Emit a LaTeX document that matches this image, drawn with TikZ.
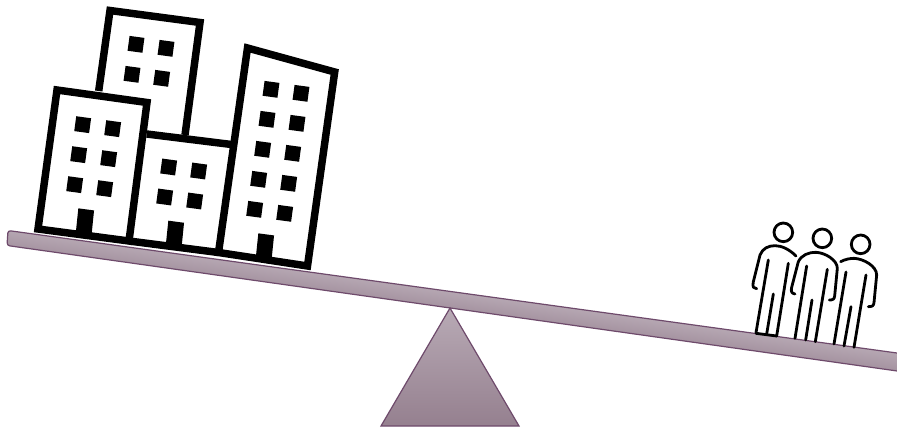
\documentclass[tikz,border=0pt]{standalone}
\usetikzlibrary{calc}
\definecolor{edgeplum}{HTML}{6E4A6B}
\definecolor{plumlight}{HTML}{B8AAB5}
\definecolor{plumdark}{HTML}{95808F}
\definecolor{beamtop}{HTML}{B9ABB6}
\definecolor{beamlow}{HTML}{A08D9B}
\tikzset{
  wall/.style={draw=black,line width=5.6pt,miter limit=10,line join=miter},
  person/.style={draw=black,line width=2.1pt,line cap=round,line join=round},
  plumshade/.style={draw=edgeplum,line width=0.9pt,top color=plumlight,bottom color=plumdark},
  beamline/.style={draw=edgeplum,line width=0.9pt,rounded corners=2pt}
}
\newcommand{\win}[2]{\fill[black,shift={(#1/3,#2/3)}] (-6.43,-8.43) -- (8.43,-6.43) -- (6.43,8.43) -- (-8.43,6.43) -- cycle;}
\newcommand{\door}[2]{\fill[black,shift={(#1/3,#2/3)}] (0,0) -- (15.7,2.1) -- (13.4,25) -- (-2.4,23) -- cycle;}
\begin{document}
\begin{tikzpicture}[x=0.75pt,y=-0.75pt]
\useasboundingbox (0,0) rectangle (897,429);
% beam: the gradient runs across the tilted bar
\begin{scope}
  \clip[rounded corners=2pt] (8,230.5) -- (905,354.1) -- (905,372.1) -- (7,245.5) -- cycle;
  \begin{scope}[transform canvas={rotate around={-7.9:(452,301)}}]
    \shade[top color=beamtop,bottom color=beamlow] (-100,288) rectangle (1000,314);
  \end{scope}
\end{scope}
\draw[beamline] (8,230.5) -- (905,354.1) -- (905,372.1) -- (7,245.5) -- cycle;
% pivot
\path[plumshade] (450,308) -- (519,426) -- (381,426) -- cycle;
% back building
\draw[wall] (98.7,91) -- (110,10.5) -- (200,22.5) -- (185,135);
% left building
\draw[wall] (57,90) -- (147,102.5) -- (129,241) -- (38,229) -- cycle;
% middle building
\draw[wall] (146.7,134) -- (231.5,144.5);
\draw[wall] (129,241) -- (218.5,252.5);
% right building
\draw[wall] (247.5,48) -- (334.7,72) -- (307.5,266) -- (218.5,252.5) -- cycle;
% windows
\foreach \a/\b in {408/133,498/145,396/223,485/235,
  248/374,338/386,236/464,326/476,224/554,314/566,
  506/501,596/513,494/591,584/603,
  813/268,903/280,801/358,891/370,788/448,878/460,776/538,866/550,764/628,854/640}
  {\win{\a}{\b}}
% doors
\door{235}{625}
\door{505}{662}
\door{775}{700}
% people
\begin{scope}[shift={(740,210)},x=0.25pt,y=-0.25pt,person]
  % person 1
  \draw (130,67) circle (28);
  \draw (168,138) .. controls (148,118) and (125,107) .. (105,107) .. controls (85,107) and (68,115) .. (60,135)
     -- (40,215) .. controls (36,232) and (42,236) .. (50,236);
  \draw (85,150) -- (48,368);
  \draw (145,160) -- (110,378);
  \draw (100,252) -- (80,372);
  \draw (48,370) -- (110,378);
  % person 2
  \draw (247,85) circle (28);
  \draw (165,252) .. controls (155,250) and (152,245) .. (155,232) -- (175,155)
     .. controls (185,135) and (205,127) .. (228,127) .. controls (255,128) and (292,150) .. (292,175)
     -- (284,258) .. controls (283,268) and (278,270) .. (268,270);
  \draw (200,168) -- (165,385);
  \draw (262,178) -- (226,395);
  \draw (216,270) -- (197,390);
  % person 3
  \draw (362,103) circle (28);
  \draw (302,155) .. controls (315,148) and (330,145) .. (342,145) .. controls (370,146) and (410,168) .. (410,195)
     -- (402,278) .. controls (401,288) and (396,290) .. (385,290);
  \draw (318,186) -- (282,402);
  \draw (378,195) -- (342,412);
  \draw (333,290) -- (312,408);
\end{scope}
\end{tikzpicture}
\end{document}
